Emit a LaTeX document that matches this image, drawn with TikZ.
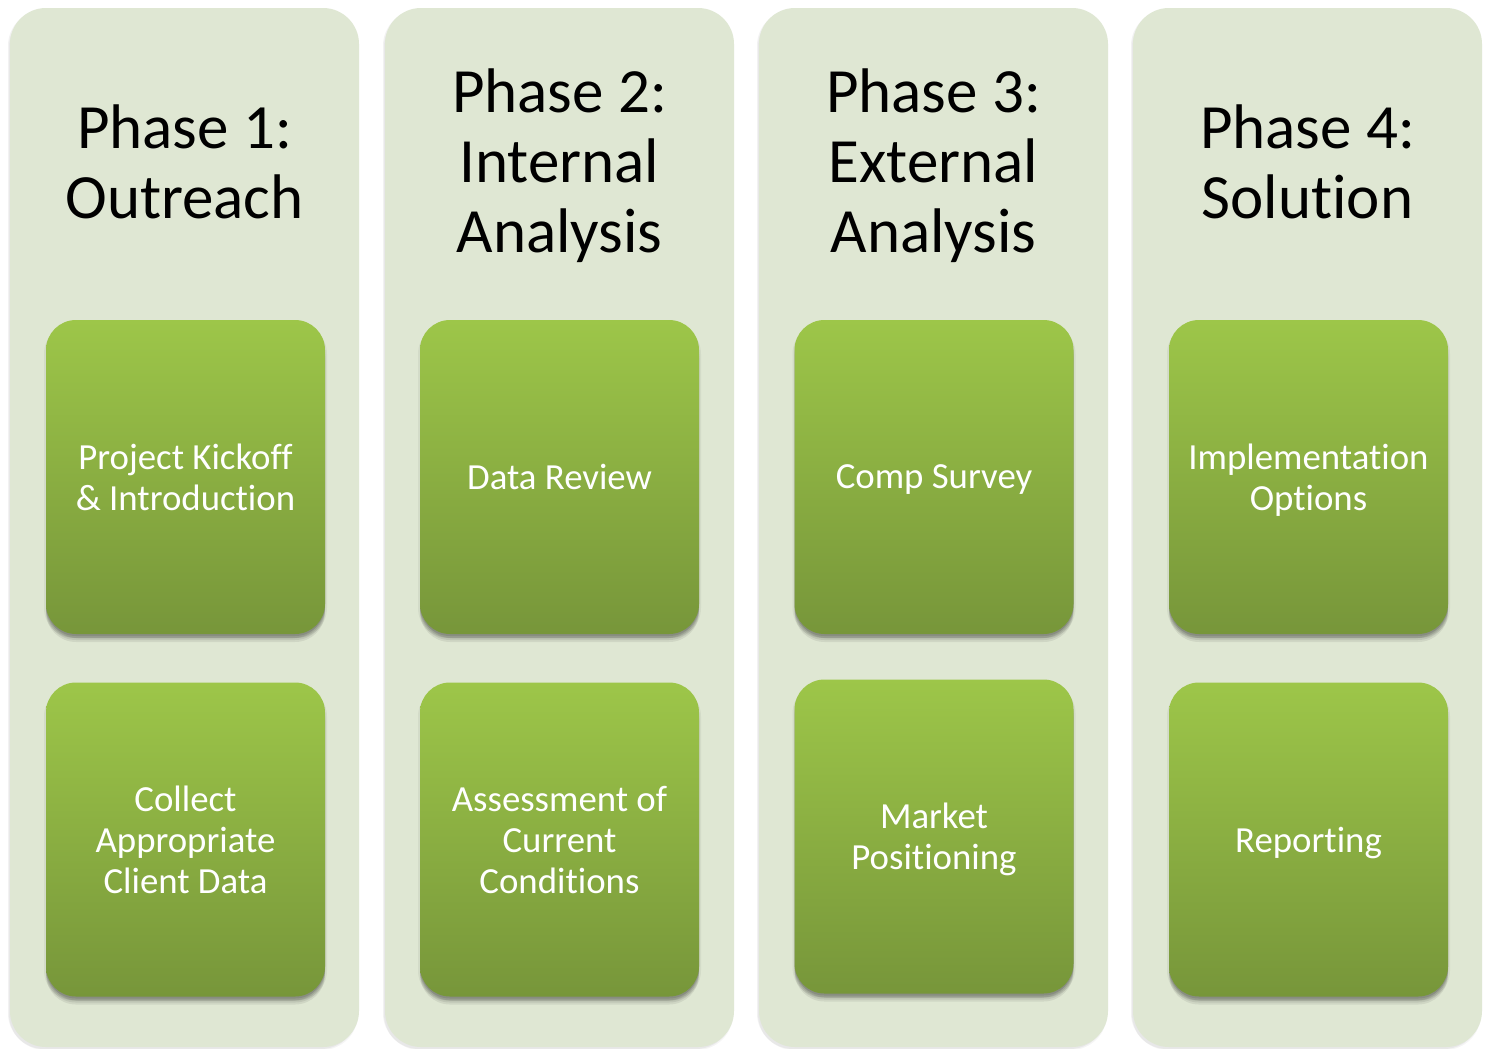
\documentclass[tikz,border=0pt]{standalone}
\usepackage{fontspec}
\setmainfont{Carlito}[Ligatures=NoCommon]
\definecolor{panelfill}{HTML}{DFE7D3}
\definecolor{boxtop}{HTML}{9DC649}
\definecolor{boxbot}{HTML}{77963A}
\pgfdeclareverticalshading{greenfade}{100bp}{color(0bp)=(boxbot); color(25bp)=(boxbot); color(75bp)=(boxtop); color(100bp)=(boxtop)}
\tikzset{
  panel/.style={fill=panelfill, rounded corners=18pt, minimum width=174.5pt, minimum height=519.5pt,
    preaction={fill=black, opacity=0.05, transform canvas={xshift=-1pt, yshift=-1pt}},
    preaction={fill=black, opacity=0.04, transform canvas={xshift=-0.5pt, yshift=-1.5pt}}},
  title/.style={font=\fontsize{31.5pt}{35pt}\selectfont, text=black, align=center},
  stage/.style={rounded corners=15pt, minimum width=139.5pt, minimum height=157pt,
    text=white, align=center, font=\fontsize{18.4pt}{20.5pt}\selectfont, text depth=0pt,
    preaction={fill=black, opacity=0.07, transform canvas={yshift=-4pt}},
    preaction={fill=black, opacity=0.08, transform canvas={yshift=-3pt}},
    preaction={fill=black, opacity=0.10, transform canvas={yshift=-2pt}},
    preaction={fill=black, opacity=0.10, transform canvas={yshift=-1pt}},
    preaction={fill=black, opacity=0.05, transform canvas={xshift=1pt, yshift=-2pt}},
    preaction={fill=black, opacity=0.05, transform canvas={xshift=-1pt, yshift=-2pt}},
    shading=greenfade}
}
\begin{document}
\begin{tikzpicture}[x=0.5pt, y=-0.5pt]
  % page frame
  \fill[white] (0,0) rectangle (1488,1049);
  \useasboundingbox (0,0) rectangle (1488,1049);

  % phase columns
  \node[panel] (p1) at (184.5,527.5) {};
  \node[panel] (p2) at (559.5,527.5) {};
  \node[panel] (p3) at (933.5,527.5) {};
  \node[panel] (p4) at (1307.5,527.5) {};

  % phase headings
  \node[title] (t1) at (184.5,162) {Phase 1:\\Outreach};
  \node[title] (t2) at (559.5,166) {Phase 2:\\Internal\\Analysis};
  \node[title] (t3) at (933.5,166) {Phase 3:\\External\\Analysis};
  \node[title] (t4) at (1307.5,162) {Phase 4:\\Solution};

  % activity boxes
  \node[stage] (a1) at (185.5,477) {Project Kickoff\\\& Introduction};
  \node[stage] (b1) at (185.5,839.5) {Collect\\Appropriate\\Client Data};
  \node[stage] (a2) at (559.5,477) {Data Review};
  \node[stage] (b2) at (559.5,839.5) {Assessment of\\Current\\Conditions};
  \node[stage] (a3) at (934,477) {Comp Survey};
  \node[stage] (b3) at (934,836.5) {Market\\Positioning};
  \node[stage] (a4) at (1308.5,477) {Implementation\\Options};
  \node[stage] (b4) at (1308.5,839.5) {Reporting};
\end{tikzpicture}
\end{document}
